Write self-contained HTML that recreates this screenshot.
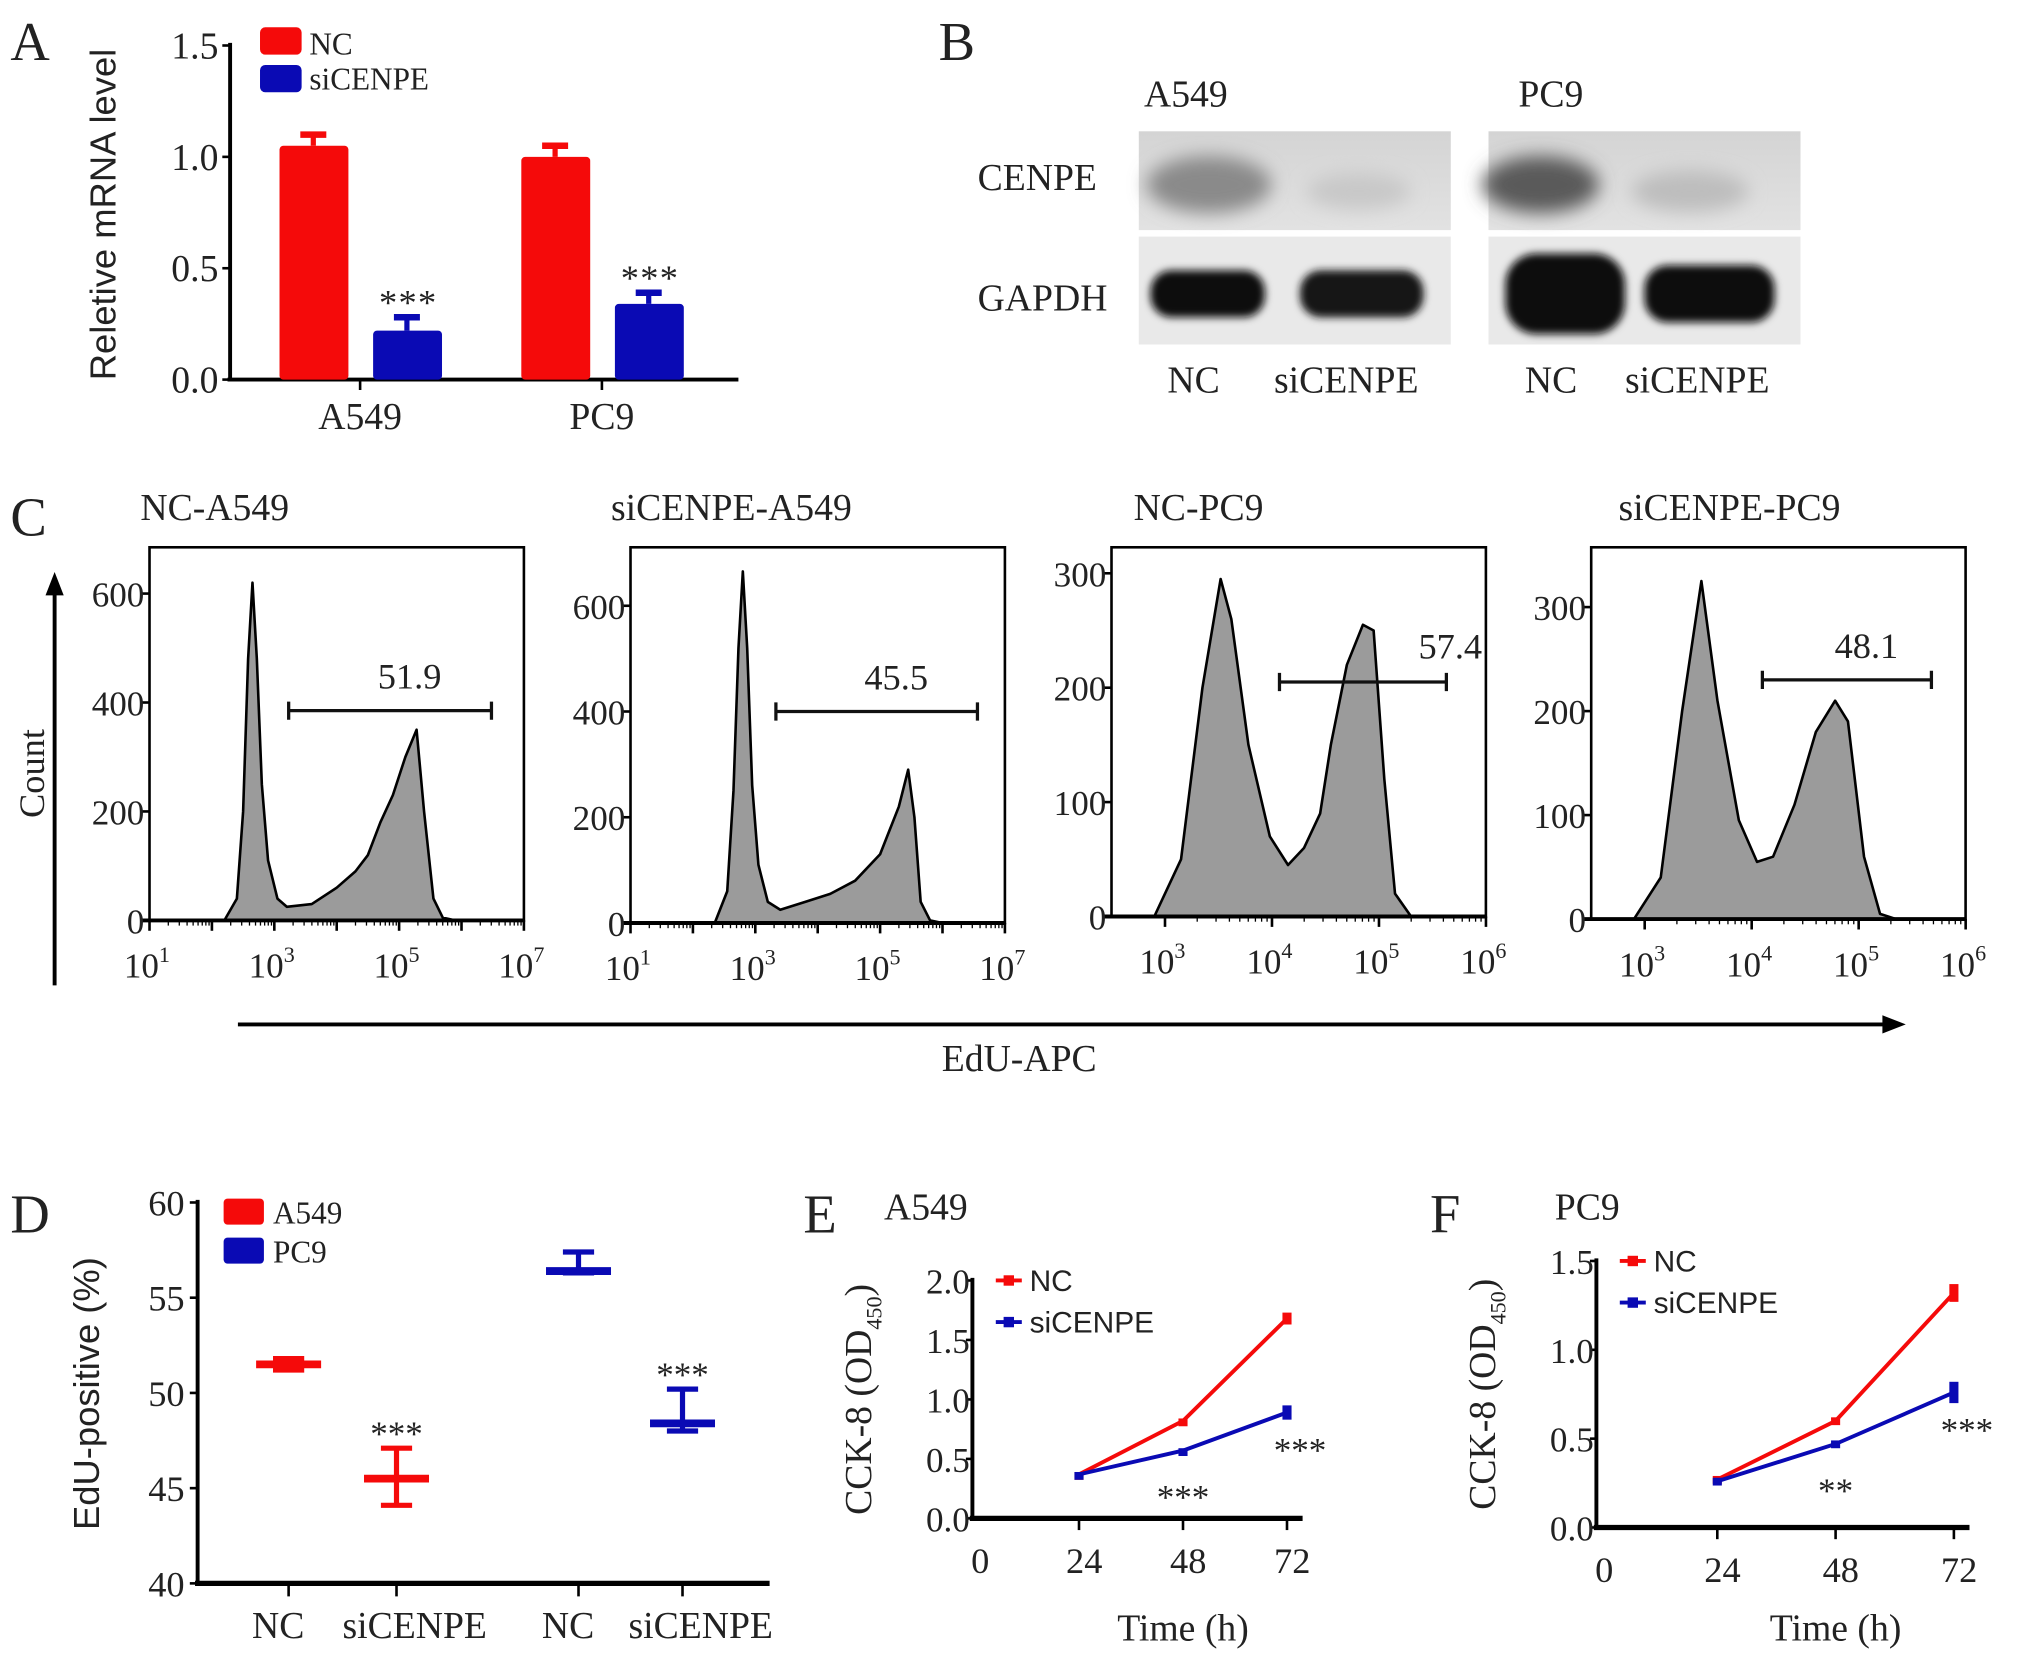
<!DOCTYPE html>
<html><head><meta charset="utf-8"><style>
html,body{margin:0;padding:0;background:#fff}
svg{display:block}
text{font-family:"Liberation Serif",serif;fill:#222}
.sans{font-family:"Liberation Sans",sans-serif}
</style></head><body>
<svg id="fig" xmlns="http://www.w3.org/2000/svg" width="2031" height="1658" viewBox="0 0 1562.3 1275.4">
<defs>
<filter id="blur" x="-30%" y="-50%" width="160%" height="200%"><feGaussianBlur stdDeviation="7"/></filter>
<filter id="blur2" x="-30%" y="-50%" width="160%" height="200%"><feGaussianBlur stdDeviation="3"/></filter>
<linearGradient id="bgc" x1="0" y1="0" x2="0" y2="1"><stop offset="0" stop-color="#d4d4d4"/><stop offset="1" stop-color="#e2e2e2"/></linearGradient>
</defs>
<rect width="1562.3" height="1275.4" fill="#fff"/>
<text x="8" y="46" font-size="42">A</text>
<text x="722" y="46" font-size="42">B</text>
<text x="8" y="412" font-size="42">C</text>
<text x="8" y="948" font-size="42">D</text>
<text x="618" y="948" font-size="42">E</text>
<text x="1100" y="948" font-size="42">F</text>

<g>
<text x="880" y="82" font-size="29">A549</text>
<text x="1168" y="82" font-size="29">PC9</text>
<text x="752" y="146" font-size="29">CENPE</text>
<text x="752" y="239" font-size="29">GAPDH</text>
<rect x="876" y="101" width="240" height="76" fill="url(#bgc)"/>
<rect x="876" y="182" width="240" height="83" fill="#e9e9e9"/>
<rect x="1145" y="101" width="240" height="76" fill="url(#bgc)"/>
<rect x="1145" y="182" width="240" height="83" fill="#e9e9e9"/>
<ellipse cx="930" cy="142" rx="48" ry="22" fill="#8a8a8a" filter="url(#blur)"/>
<ellipse cx="1045" cy="147" rx="40" ry="14" fill="#c8c8c8" filter="url(#blur)"/>
<ellipse cx="1185" cy="142" rx="45" ry="22" fill="#5a5a5a" filter="url(#blur)"/>
<ellipse cx="1300" cy="147" rx="45" ry="16" fill="#bdbdbd" filter="url(#blur)"/>
<rect x="885" y="208" width="88" height="36" rx="16" fill="#111" filter="url(#blur2)"/>
<rect x="1000" y="208" width="95" height="36" rx="16" fill="#161616" filter="url(#blur2)"/>
<rect x="1158" y="195" width="92" height="62" rx="24" fill="#080808" filter="url(#blur2)"/>
<rect x="1265" y="204" width="100" height="44" rx="18" fill="#111" filter="url(#blur2)"/>
<text x="898" y="302" font-size="29">NC</text>
<text x="980" y="302" font-size="29">siCENPE</text>
<text x="1173" y="302" font-size="29">NC</text>
<text x="1250" y="302" font-size="29">siCENPE</text>
</g>

<text x="108" y="400" font-size="29">NC-A549</text>
<text x="470" y="400" font-size="29">siCENPE-A549</text>
<text x="872" y="400" font-size="29">NC-PC9</text>
<text x="1245" y="400" font-size="29">siCENPE-PC9</text>
<line x1="42" y1="758" x2="42" y2="455" stroke="#000" stroke-width="3"/>
<polygon points="42,440 35,458 49,458" fill="#000"/>
<text x="0" y="0" font-size="28" text-anchor="middle" transform="translate(34,595) rotate(-90)">Count</text>
<line x1="183" y1="788" x2="1450" y2="788" stroke="#000" stroke-width="3"/>
<polygon points="1466,788 1448,781 1448,795" fill="#000"/>
<text x="784" y="824" font-size="29" text-anchor="middle">EdU-APC</text>

<g id="plots"></g>
</svg>
<script>
// ---------- Panel A data ----------
const aGroups = ['A549', 'PC9'];
const aNC = [1.05, 1.0];
const aNCerr = [0.05, 0.05];
const aSi = [0.22, 0.34];
const aSiErr = [0.06, 0.05];
const aTicks = [0, 0.5, 1.0, 1.5];
// ---------- Panel C data (log10 x, count) ----------
const cLog1 = [2.2,2.4,2.5,2.58,2.65,2.72,2.8,2.9,3.05,3.2,3.6,4.0,4.3,4.5,4.7,4.9,5.1,5.28,5.4,5.55,5.7,5.9];
const cCnt1 = [0,40,200,480,620,480,250,110,40,25,30,60,90,120,180,230,300,350,200,40,5,0];
const cLog2 = [2.35,2.55,2.65,2.73,2.8,2.87,2.95,3.05,3.2,3.4,3.8,4.2,4.6,5.0,5.3,5.45,5.55,5.65,5.8,6.0];
const cCnt2 = [0,60,250,520,665,520,260,110,40,25,40,55,80,130,220,290,200,40,5,0];
const cLog3 = [2.9,3.15,3.35,3.52,3.62,3.78,3.98,4.15,4.3,4.45,4.55,4.7,4.85,4.95,5.05,5.15,5.3];
const cCnt3 = [0,50,200,295,260,150,70,45,60,90,150,220,255,250,120,20,0];
const cLog4 = [2.9,3.15,3.35,3.53,3.68,3.88,4.05,4.2,4.4,4.6,4.78,4.9,5.05,5.2,5.35];
const cCnt4 = [0,40,200,325,210,95,55,60,110,180,210,190,60,5,0];
const cGateLo = [3.23, 3.33, 4.07, 4.1];
const cGateHi = [6.48, 6.56, 5.63, 5.68];
const cGateCount = [385, 400, 205, 230];
const cGateLabel = ['51.9', '45.5', '57.4', '48.1'];
const cYTicksA = [0, 200, 400, 600];
const cYTicksB = [0, 100, 200, 300];
const cXTicksA = [1, 3, 5, 7];
const cXTicksB = [3, 4, 5, 6];
// ---------- Panel D data ----------
const dCats = ['NC', 'siCENPE', 'NC', 'siCENPE'];
const dMean = [51.5, 45.5, 56.4, 48.4];
const dHi = [51.8, 47.1, 57.4, 50.2];
const dLo = [51.2, 44.1, 56.3, 48.0];
const dTicks = [40, 45, 50, 55, 60];
const dStars = ['', '***', '', '***'];
// ---------- Panel E/F data ----------
const eTime = [24, 48, 72];
const eNC = [0.37, 0.82, 1.68];
const eNCerr = [0.02, 0.02, 0.05];
const eSi = [0.37, 0.57, 0.89];
const eSiErr = [0.02, 0.02, 0.06];
const eStars = ['', '***', '***'];
const eYTicks = [0, 0.5, 1.0, 1.5, 2.0];
const fNC = [0.27, 0.6, 1.32];
const fNCerr = [0.02, 0.02, 0.05];
const fSi = [0.26, 0.47, 0.76];
const fSiErr = [0.02, 0.02, 0.06];
const fStars = ['', '**', '***'];
const fYTicks = [0, 0.5, 1.0, 1.5];
const xTimeTicks = [0, 24, 48, 72];

const NS = 'http://www.w3.org/2000/svg';
const root = document.getElementById('plots');
function mk(tag, attrs, txt) {
  const e = document.createElementNS(NS, tag);
  for (const k in attrs) e.setAttribute(k, attrs[k]);
  if (txt !== undefined) e.textContent = txt;
  root.appendChild(e);
  return e;
}
const RED = '#f50a0a', BLUE = '#0a0ab4';
let e;

// ===== Panel A =====
const yA = v => 292 - v / 1.5 * 257;
const aCenters = [277, 463];
e = mk('line', {x1:177, y1:33, x2:177, y2:293, stroke:'#000', 'stroke-width':3});


e = mk('line', {x1:175, y1:292, x2:568, y2:292, stroke:'#000', 'stroke-width':3});


aTicks.forEach(t => {
  e = mk('text', {x:168, y:yA(t)+10, 'font-size':29, 'text-anchor':'end'}, t.toFixed(1));
  
  
  e = mk('line', {x1:171, y1:yA(t), x2:177, y2:yA(t), stroke:'#000', 'stroke-width':2});
  
  
});
aGroups.forEach((g, i) => {
  const c = aCenters[i];
  e = mk('line', {x1:c, y1:292, x2:c, y2:300, stroke:'#000', 'stroke-width':2});
  
  
  e = mk('text', {x:c, y:330, 'font-size':29, 'text-anchor':'middle'}, g);
  
  
  [[aNC, aNCerr, RED, c-62], [aSi, aSiErr, BLUE, c+10]].forEach(([vals, errs, col, x0], j) => {
    const v = vals[i], er = errs[i];
    e = mk('line', {x1:x0+26, y1:yA(v), x2:x0+26, y2:yA(v+er), stroke:col, 'stroke-width':4});
    
    
    e = mk('line', {x1:x0+16, y1:yA(v+er), x2:x0+36, y2:yA(v+er), stroke:col, 'stroke-width':5});
    
    
    e = mk('rect', {x:x0, y:yA(v), width:53, height:292-yA(v), fill:col, rx:3});
    
    
    if (j === 1) {
      e = mk('text', {x:x0+27, y:yA(v+er)-2, 'font-size':28, 'text-anchor':'middle', 'letter-spacing':1}, '***');
      
      
    }
  });
});
e = mk('rect', {x:200, y:21, width:32, height:21, rx:4, fill:RED});


e = mk('text', {x:238, y:42, 'font-size':24}, 'NC');


e = mk('rect', {x:200, y:50, width:32, height:21, rx:4, fill:BLUE});


e = mk('text', {x:238, y:69, 'font-size':24}, 'siCENPE');


e = mk('text', {x:0, y:0, 'font-size':28, 'text-anchor':'middle', class:'sans', transform:'translate(89,165) rotate(-90)'}, 'Reletive mRNA level');



// ===== Panel C =====
const plots = [
  {left:115, base:708, sc:0.419, lmin:1, dec:48, logs:cLog1, cnt:cCnt1, yt:cYTicksA, xt:cXTicksA},
  {left:485, base:710, sc:0.4067, lmin:1, dec:48, logs:cLog2, cnt:cCnt2, yt:cYTicksA, xt:cXTicksA},
  {left:855, base:705, sc:0.88, lmin:2.5, dec:82.3, logs:cLog3, cnt:cCnt3, yt:cYTicksB, xt:cXTicksB},
  {left:1224, base:707, sc:0.80, lmin:2.5, dec:82.3, logs:cLog4, cnt:cCnt4, yt:cYTicksB, xt:cXTicksB}
];
plots.forEach((p, i) => {
  const X = l => p.left + (l - p.lmin) * p.dec;
  const Y = c => p.base - c * p.sc;
  const right = p.left + 288;
  let d = 'M' + X(p.logs[0]) + ',' + Y(p.cnt[0]);
  for (let k = 1; k < p.logs.length; k++) d += ' L' + X(p.logs[k]) + ',' + Y(p.cnt[k]);
  e = mk('path', {d: d + ' Z', fill:'#9b9b9b', stroke:'#000', 'stroke-width':2, 'stroke-linejoin':'round'});
  
  
  e = mk('rect', {x:p.left, y:421, width:288, height:p.base-421, fill:'none', stroke:'#000', 'stroke-width':2});
  
  
  e = mk('line', {x1:p.left-6, y1:p.base, x2:right, y2:p.base, stroke:'#000', 'stroke-width':3});
  
  
  p.yt.forEach(t => {
    e = mk('line', {x1:p.left-6, y1:Y(t), x2:p.left, y2:Y(t), stroke:'#000', 'stroke-width':2});
    
    
    e = mk('text', {x:p.left-4, y:Y(t)+10, 'font-size':27, 'text-anchor':'end'}, String(t));
    
    
  });
  for (let l = Math.ceil(p.lmin); l <= p.lmin + 288 / p.dec + 0.01; l++) {
    for (let m = 1; m < 10; m++) {
      const xl = l + Math.log10(m);
      if (xl > p.lmin + 288 / p.dec + 0.01 || xl < p.lmin) continue;
      e = mk('line', {x1:X(xl), y1:p.base, x2:X(xl), y2:p.base + (m === 1 ? 8 : 4), stroke:'#000', 'stroke-width': m === 1 ? 2 : 1});
      
      
    }
  }
  p.xt.forEach(t => {
    e = mk('text', {x:X(t)-2, y:p.base+44, 'font-size':27, 'text-anchor':'middle'});
    
    
    e.innerHTML = '10<tspan dy="-12" font-size="17">' + t + '</tspan>';
  });
  const gy = Y(cGateCount[i]);
  e = mk('path', {d:'M'+X(cGateLo[i])+','+(gy-7)+' V'+(gy+7)+' M'+X(cGateLo[i])+','+gy+' H'+X(cGateHi[i])+' M'+X(cGateHi[i])+','+(gy-7)+' V'+(gy+7), fill:'none', stroke:'#111', 'stroke-width':2.5});
  
  
  const lx = i === 2 ? X(cGateHi[i]) + 3 : (X(cGateLo[i]) + X(cGateHi[i])) / 2 + 15;
  e = mk('text', {x:lx, y: i === 2 ? gy-18 : gy-17, 'font-size':28, 'text-anchor':'middle'}, cGateLabel[i]);
  
  
});

// ===== Panel D =====
const yD = v => 1218 - (v - 40) / 20 * 293;
const dX = [222, 305, 445, 525];
e = mk('line', {x1:152, y1:923, x2:152, y2:1219, stroke:'#000', 'stroke-width':3});


e = mk('line', {x1:150, y1:1218, x2:592, y2:1218, stroke:'#000', 'stroke-width':4});


dTicks.forEach(t => {
  e = mk('line', {x1:146, y1:yD(t), x2:152, y2:yD(t), stroke:'#000', 'stroke-width':2});
  
  
  e = mk('text', {x:142, y:yD(t)+10, 'font-size':28, 'text-anchor':'end'}, String(t));
  
  
});
dCats.forEach((c, i) => {
  const x = dX[i], col = i < 2 ? RED : BLUE;
  e = mk('line', {x1:x, y1:1218, x2:x, y2:1228, stroke:'#000', 'stroke-width':2});
  
  
  e = mk('text', {x: i % 2 ? x + 14 : x - 8, y:1260, 'font-size':29, 'text-anchor':'middle'}, c);
  
  
  e = mk('path', {d:'M'+x+','+yD(dLo[i])+' V'+yD(dHi[i])+' M'+(x-12)+','+yD(dHi[i])+' H'+(x+12)+' M'+(x-12)+','+yD(dLo[i])+' H'+(x+12), stroke:col, 'stroke-width':4, fill:'none'});
  
  
  e = mk('line', {x1:x-25, y1:yD(dMean[i]), x2:x+25, y2:yD(dMean[i]), stroke:col, 'stroke-width':6});
  
  
  if (dStars[i]) {
    e = mk('text', {x:x, y:yD(dHi[i])-2, 'font-size':27, 'text-anchor':'middle'}, dStars[i]);
    
    
  }
});
e = mk('rect', {x:172, y:922, width:31, height:20, rx:3, fill:RED});


e = mk('text', {x:210, y:941, 'font-size':24}, 'A549');


e = mk('rect', {x:172, y:952, width:31, height:20, rx:3, fill:BLUE});


e = mk('text', {x:210, y:971, 'font-size':24}, 'PC9');


e = mk('text', {x:0, y:0, 'font-size':28, 'text-anchor':'middle', class:'sans', transform:'translate(76,1072) rotate(-90)'}, 'EdU-positive (%)');



// ===== Panels E & F =====
function lineChart(key, ax, base, top, ymax, dx, yt, nc, ncE, si, siE, stars, title, tx, legY) {
  const X = t => ax + 2 + t / 24 * dx;
  const Y = v => base - v / ymax * (base - top);
  e = mk('line', {x1:ax, y1:top-2, x2:ax, y2:base+1, stroke:'#000', 'stroke-width':3});
  
  
  e = mk('line', {x1:ax-2, y1:base, x2:X(72)+12, y2:base, stroke:'#000', 'stroke-width':4});
  
  
  yt.forEach(t => {
    e = mk('line', {x1:ax-5, y1:Y(t), x2:ax, y2:Y(t), stroke:'#000', 'stroke-width':2});
    
    
    e = mk('text', {x:ax-2, y:Y(t)+10, 'font-size':27, 'text-anchor':'end'}, t.toFixed(1));
    
    
  });
  xTimeTicks.forEach(t => {
    if (t > 0) {
      e = mk('line', {x1:X(t), y1:base, x2:X(t), y2:base+9, stroke:'#000', 'stroke-width':2});
      
      
    }
    e = mk('text', {x:X(t)+4, y:base+42, 'font-size':28, 'text-anchor':'middle'}, String(t));
    
    
  });
  [[nc, ncE, RED, 'nc'], [si, siE, BLUE, 'sicenpe']].forEach(([vals, errs, col, nm]) => {
    e = mk('polyline', {points: eTime.map((t, k) => X(t) + ',' + Y(vals[k])).join(' '), fill:'none', stroke:col, 'stroke-width':3});
    
    
    eTime.forEach((t, k) => {
      e = mk('rect', {x:X(t)-3.5, y:Y(vals[k]+errs[k]), width:7, height:Math.max(6, Y(vals[k]-errs[k]) - Y(vals[k]+errs[k])), fill:col});
      
      
    });
  });
  eTime.forEach((t, k) => {
    if (!stars[k]) return;
    const yy = k === 2 ? Y(si[k]) + 38 : Y(si[k]) + 45;
    e = mk('text', {x:X(t) + (k === 2 ? 10 : 0), y:yy, 'font-size':27, 'text-anchor':'middle'}, stars[k]);
    
    
  });
  e = mk('text', {x:tx, y:938, 'font-size':29}, title);
  
  
  [[RED, 'NC', legY], [BLUE, 'siCENPE', legY + 32]].forEach(([col, lab, ly]) => {
    e = mk('line', {x1:ax+18, y1:ly, x2:ax+38, y2:ly, stroke:col, 'stroke-width':3});
    
    
    e = mk('rect', {x:ax+24, y:ly-4, width:8, height:8, fill:col});
    
    
    e = mk('text', {x:ax+44, y:ly+8, 'font-size':23, class:'sans'}, lab);
    
    
  });
  e = mk('text', {x:X(48), y:1262, 'font-size':29, 'text-anchor':'middle'}, 'Time (h)');
  
  
  e = mk('text', {x:0, y:0, 'font-size':29, 'text-anchor':'middle', transform:'translate(' + (ax-78) + ',' + ((base+top)/2) + ') rotate(-90)'});
  
  
  e.innerHTML = 'CCK-8 (OD<tspan dy="8" font-size="17">450</tspan><tspan dy="-8">)</tspan>';
}
lineChart('e', 748, 1168, 985, 2.0, 80, eYTicks, eNC, eNCerr, eSi, eSiErr, eStars, 'A549', 680, 985);
lineChart('f', 1228, 1175, 970, 1.5, 91, fYTicks, fNC, fNCerr, fSi, fSiErr, fStars, 'PC9', 1196, 970);
</script>
</body></html>
